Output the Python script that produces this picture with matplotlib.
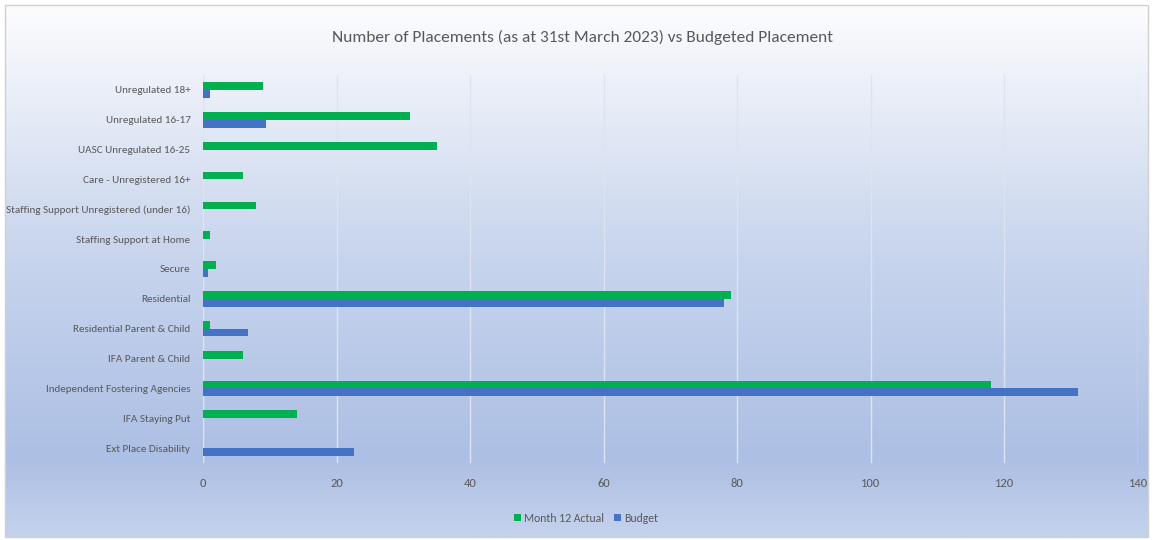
import numpy as np
import matplotlib
matplotlib.use("Agg")
import matplotlib.pyplot as plt
from matplotlib import font_manager as fm
from matplotlib.patches import Rectangle

categories = ["Unregulated 18+", "Unregulated 16-17", "UASC Unregulated 16-25",
              "Care - Unregistered 16+", "Staffing Support Unregistered (under 16)",
              "Staffing Support at Home", "Secure", "Residential",
              "Residential Parent & Child", "IFA Parent & Child",
              "Independent Fostering Agencies", "IFA Staying Put", "Ext Place Disability"]
actual = [9, 31, 35, 6, 8, 1, 2, 79, 1, 6, 118, 14, 0]
budget = [1, 9.5, 0, 0, 0, 0, 0.8, 78, 6.7, 0, 131, 0, 22.6]
xticks = [0, 20, 40, 60, 80, 100, 120, 140]
title = "Number of Placements (as at 31st March 2023) vs Budgeted Placement"
series_names = ["Month 12 Actual", "Budget"]

names = {f.name for f in fm.fontManager.ttflist}
fam = "DejaVu Sans"
for cand in ["Carlito", "Liberation Sans Narrow", "Roboto Condensed"]:
    if cand in names:
        fam = cand
        break
plt.rcParams['font.family'] = [fam, 'DejaVu Sans']

W, H = 1153, 540
fig = plt.figure(figsize=(W / 100, H / 100), dpi=100)

# background gradient
bg = fig.add_axes([0, 0, 1, 1], zorder=-10)
bg.set_xlim(0, W); bg.set_ylim(H, 0); bg.axis("off")
stops_y = np.array([5, 60, 250, 460, 537])
stops_c = np.array([[252, 252, 254], [240, 243, 250], [200, 213, 237], [172, 191, 228], [196, 210, 236]]) / 255
ys = np.arange(H)
grad = np.stack([np.interp(ys, stops_y, stops_c[:, k]) for k in range(3)], axis=1)
img = np.repeat(grad[:, None, :], 2, axis=1)
bg.imshow(img, extent=[5, 1148, 537, 5], aspect="auto", interpolation="bilinear")
bg.add_patch(Rectangle((5, 5), 1143, 532, fill=False, edgecolor="#d0d0d0", lw=1))

ax = fig.add_axes([203 / W, 1 - 463 / H, (1138 - 203) / W, (463 - 75) / H])
ax.patch.set_alpha(0)
n = len(categories)
y = np.arange(n)
h = 0.26
ax.barh(y - h / 2, actual, height=h, color="#00B050", label=series_names[0], zorder=3)
ax.barh(y + h / 2, budget, height=h, color="#4472C4", label=series_names[1], zorder=3)
ax.set_ylim(n - 0.5, -0.5)
ax.set_xlim(0, 140)
ax.set_xticks(xticks)
ax.set_yticks(y)
ax.set_yticklabels(categories)
ax.grid(axis="x", color="#dde3f0", lw=1, zorder=0)
for s in ax.spines.values():
    s.set_visible(False)
ax.axvline(0, color="#d9dde6", lw=1, zorder=1)
ax.tick_params(axis="y", length=0, colors="#595959", labelsize=8.0, pad=9)
ax.tick_params(axis="x", length=0, colors="#595959", labelsize=9, pad=11)

fig.text(582 / W, 1 - 37 / H, title, ha="center", va="center", fontsize=12.5, color="#595959")
leg = fig.legend(loc="center", bbox_to_anchor=(586 / W, 1 - 518 / H), ncol=2, frameon=False,
                 fontsize=8.5, handlelength=0.6, handleheight=0.6, handletextpad=0.3,
                 columnspacing=0.8, labelcolor="#595959")

fig.savefig("out.png", dpi=100)
